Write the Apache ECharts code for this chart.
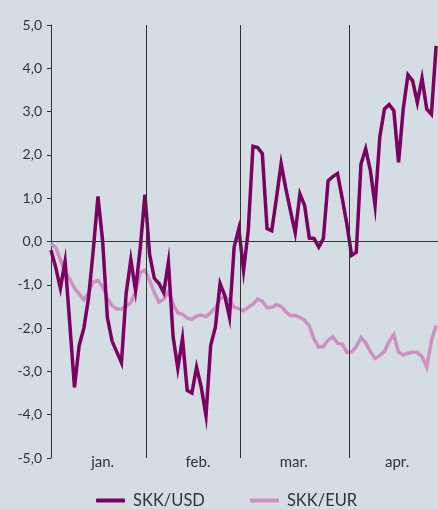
<!DOCTYPE html>
<html>
<head>
<meta charset="utf-8">
<title>SKK/USD, SKK/EUR</title>
<script src="https://cdn.jsdelivr.net/npm/echarts@6/dist/echarts.min.js"></script>
<style>
    html, body { margin: 0; padding: 0; background: #d5dde4; }
    #chart { width: 438px; height: 509px; }
</style>
</head>
<body>
<div id="chart"></div>
<script type="text/javascript">
// series names
var seriesNames = ['SKK/USD', 'SKK/EUR'];

// daily values, % change
var skkUsd = [
    -0.2, -0.6, -1.08, -0.46, -1.9, -3.37, -2.4, -2.0, -1.3, -0.2,
    1.04, 0.0, -1.75, -2.3, -2.55, -2.8, -1.2, -0.42, -1.13, -0.15,
    1.08, -0.3, -0.85, -0.97, -1.18, -0.48, -2.2, -2.93, -2.24, -3.44,
    -3.5, -2.9, -3.37, -4.02, -2.4, -1.98, -0.97, -1.25, -1.75, -0.13,
    0.3, -0.67, 0.25, 2.2, 2.17, 2.03, 0.3, 0.25, 1.0, 1.8,
    1.22, 0.7, 0.2, 1.1, 0.83, 0.08, 0.07, -0.13, 0.07, 1.4,
    1.5, 1.57, 1.0, 0.4, -0.32, -0.25, 1.79, 2.14, 1.64, 0.83,
    2.41, 3.06, 3.16, 3.02, 1.83, 3.06, 3.85, 3.71, 3.21, 3.77,
    3.06, 2.94, 4.52
];
var skkEur = [
    -0.05, -0.14, -0.42, -0.71, -0.87, -1.08, -1.21, -1.35, -1.18, -0.93,
    -0.9, -1.05, -1.31, -1.48, -1.56, -1.56, -1.5, -1.41, -1.16, -0.72,
    -0.66, -0.9, -1.18, -1.4, -1.33, -1.16, -1.45, -1.65, -1.68, -1.77,
    -1.8, -1.72, -1.7, -1.74, -1.64, -1.53, -1.32, -1.28, -1.35, -1.52,
    -1.55, -1.6, -1.52, -1.45, -1.33, -1.38, -1.53, -1.52, -1.46, -1.5,
    -1.62, -1.71, -1.71, -1.75, -1.82, -1.95, -2.25, -2.44, -2.42, -2.28,
    -2.2, -2.35, -2.37, -2.56, -2.55, -2.43, -2.22, -2.34, -2.54, -2.7,
    -2.63, -2.54, -2.31, -2.15, -2.56, -2.62, -2.58, -2.56, -2.56, -2.66,
    -2.9, -2.29, -1.94
];

// month labels and where they sit on the day axis
var monthNames = ['jan.', 'feb.', 'mar.', 'apr.'];
var monthLabelPos = [11, 31.3, 51.7, 73.7];
// month boundaries (day index)
var monthBreaks = [20.2, 40.2, 63.4];

function pairs(arr) {
    return arr.map(function (v, i) { return [i, v]; });
}

var ink = '#333333';
var fontFamily = 'Lato, "Noto Sans", sans-serif';

var guideLines = [{ yAxis: 0 }].concat(monthBreaks.map(function (b) { return { xAxis: b }; }));

var option = {
    backgroundColor: '#d5dde4',
    animation: false,
    textStyle: { fontFamily: fontFamily },
    grid: { left: 51, right: 0, top: 25, bottom: 51 },
    legend: {
        data: seriesNames,
        left: 96,
        top: 492,
        padding: 0,
        itemWidth: 29,
        itemHeight: 4,
        itemGap: 45,
        icon: 'roundRect',
        textStyle: { fontSize: 16.5, color: ink, fontFamily: fontFamily, padding: [0, 0, 0, 3] }
    },
    xAxis: {
        type: 'value',
        min: 0,
        max: 82.4,
        axisLine: { show: false },
        axisTick: { show: false },
        splitLine: { show: false },
        axisLabel: {
            customValues: monthLabelPos,
            margin: -3,
            fontSize: 15,
            color: ink,
            formatter: function (v) {
                var k = monthLabelPos.indexOf(v);
                return k >= 0 ? monthNames[k] : '';
            }
        }
    },
    yAxis: {
        type: 'value',
        min: -5,
        max: 5,
        interval: 1,
        axisLine: { show: true, lineStyle: { color: ink, width: 1 } },
        axisTick: { show: true, length: 4, lineStyle: { color: ink } },
        splitLine: { show: false },
        axisLabel: {
            margin: 9,
            fontSize: 14,
            color: ink,
            formatter: function (v) { return v.toFixed(1).replace('.', ','); }
        }
    },
    series: [
        {
            name: 'SKK/USD',
            type: 'line',
            z: 3,
            data: pairs(skkUsd),
            showSymbol: false,
            itemStyle: { color: '#7a0062' },
            lineStyle: { color: '#7a0062', width: 3.5, join: 'miter' },
            markLine: {
                silent: true,
                symbol: ['none', 'none'],
                label: { show: false },
                lineStyle: { color: ink, type: 'solid', width: 1 },
                emphasis: { disabled: true },
                data: guideLines
            }
        },
        {
            name: 'SKK/EUR',
            type: 'line',
            z: 2,
            data: pairs(skkEur),
            showSymbol: false,
            itemStyle: { color: '#cf8fc4' },
            lineStyle: { color: '#cf8fc4', width: 3.5, join: 'miter' }
        }
    ]
};

var myChart = echarts.init(document.getElementById('chart'));
myChart.setOption(option);
</script>
</body>
</html>
